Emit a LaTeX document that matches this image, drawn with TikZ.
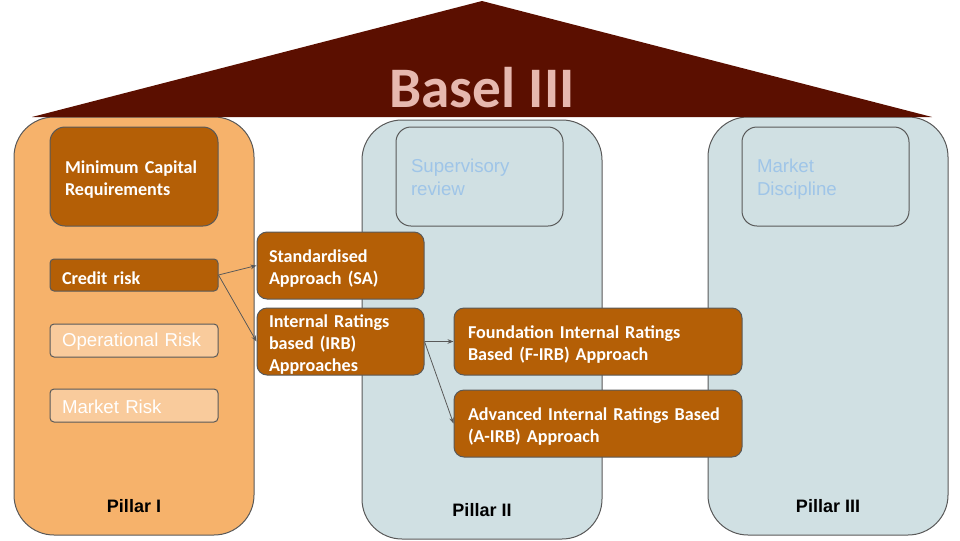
\documentclass[tikz,border=0pt]{standalone}
\usepackage{fontspec}
\newfontfamily\calfont{Carlito}
\newfontfamily\arialfont{Liberation Sans}
\usetikzlibrary{arrows.meta}
\definecolor{roof}{HTML}{5B0F00}
\definecolor{rooftext}{HTML}{E6B8AF}
\definecolor{pillarA}{HTML}{F6B26B}
\definecolor{pillarB}{HTML}{D0E0E3}
\definecolor{darkbox}{HTML}{B45F06}
\definecolor{lightbox}{HTML}{F9CB9C}
\definecolor{edge}{HTML}{595959}
\definecolor{bluetext}{HTML}{9FC5E8}
\tikzset{
  pillar/.style={draw=edge, line width=0.75pt, rounded corners=30pt},
  darkbx/.style={draw=edge, line width=0.75pt, fill=darkbox, text=white, font=\calfont\bfseries\fontsize{13.6}{16.6}\selectfont, align=left, inner ysep=0pt, execute at begin node={\rule{0pt}{14.5pt}}},
  lightbx/.style={draw=edge, line width=0.75pt, fill=lightbox, text=white, font=\arialfont\fontsize{14}{16.8}\selectfont, align=left, inner ysep=0pt, rounded corners=3pt, execute at begin node={\rule{0pt}{12.5pt}}},
  bluebx/.style={draw=edge, line width=0.75pt, fill=pillarB, text=bluetext, font=\arialfont\fontsize{14}{16.8}\selectfont, align=left, inner ysep=0pt, rounded corners=11.25pt, execute at begin node={\rule{0pt}{14pt}}, execute at end node={\rule[-3pt]{0pt}{0pt}}},
  plabel/.style={anchor=base, font=\arialfont\bfseries\fontsize{13.5}{16}\selectfont, text=black},
  conn/.style={draw=edge, line width=0.6pt, -{Stealth[length=4.5pt,width=3.5pt]}}
}
\begin{document}
\begin{tikzpicture}[x=0.75pt,y=-0.75pt]
\useasboundingbox (0,0) rectangle (960,540);
% pillars
\path[pillar, fill=pillarA] (14,117) rectangle (254,535);
\path[pillar, fill=pillarB] (362,120) rectangle (602,539);
\path[pillar, fill=pillarB] (708,117) rectangle (948,535);
% roof
\coordinate (rl) at (32,117);
\coordinate (rr) at (932,117);
\coordinate (rt) at (482,1);
\fill[roof] (rl) -- (rt) -- (rr) -- cycle;
\node[anchor=base, text=rooftext, font=\calfont\bfseries\fontsize{43}{50}\selectfont] (title) at (482,107) {Basel III};
% pillar I boxes
\node[darkbx, rounded corners=11.25pt, minimum height=74.25pt, text width=103.5pt, inner xsep=11.25pt] (mcr) at (134,176.5) {Minimum Capital\\Requirements};
\node[darkbx, rounded corners=3pt, minimum height=24pt, text width=108pt, inner xsep=9pt] (credit) at (134,275) {Credit risk};
\node[lightbx, minimum height=24.75pt, text width=108pt, inner xsep=9pt] (oper) at (134,340.5) {Operational Risk};
\node[lightbx, minimum height=24.75pt, text width=108pt, inner xsep=9pt] (mkt) at (134,405.5) {Market Risk};
% approaches
\node[darkbx, rounded corners=7.5pt, minimum height=50.25pt, text width=107.25pt, inner xsep=9pt] (sa) at (340.5,265.5) {Standardised\\Approach (SA)};
\node[darkbx, rounded corners=7.5pt, minimum height=50.25pt, text width=107.25pt, inner xsep=9pt] (irb) at (340.5,341.5) {Internal Ratings\\based (IRB)\\Approaches};
\node[darkbx, rounded corners=7.5pt, minimum height=50.25pt, text width=195pt, inner xsep=10.5pt] (firb) at (598,341.5) {Foundation Internal Ratings\\Based (F-IRB) Approach};
\node[darkbx, rounded corners=7.5pt, minimum height=50.25pt, text width=195pt, inner xsep=10.5pt] (airb) at (598,423.5) {Advanced Internal Ratings Based\\(A-IRB) Approach};
% pillar II / III header boxes
\node[bluebx, minimum height=74.25pt, text width=102.75pt, inner xsep=11.25pt] (sup) at (479.5,176.5) {Supervisory\\review};
\node[bluebx, minimum height=74.25pt, text width=102.75pt, inner xsep=11.25pt] (disc) at (825.5,176.5) {Market\\Discipline};
% connectors
\draw[conn] (credit.east) -- (sa.west);
\draw[conn] (credit.east) -- (irb.west);
\draw[conn] (irb.east) -- (firb.west);
\draw[conn] (irb.east) -- (airb.west);
% pillar labels
\node[plabel] (p1) at (134,512) {Pillar I};
\node[plabel] (p2) at (482,516) {Pillar II};
\node[plabel] (p3) at (828,512) {Pillar III};
\end{tikzpicture}
\end{document}
